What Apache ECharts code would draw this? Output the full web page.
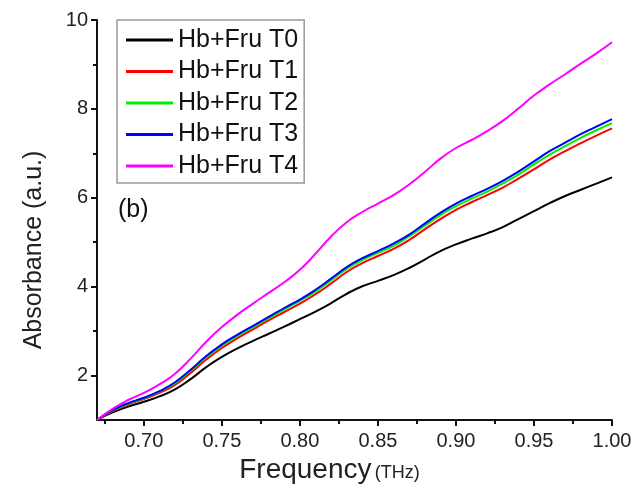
<!DOCTYPE html>
<html>
<head>
<meta charset="utf-8">
<script src="https://cdn.jsdelivr.net/npm/echarts@6/dist/echarts.min.js"></script>
<style>
  html, body { margin: 0; padding: 0; background: #fff; }
  #chart { width: 641px; height: 492px; }
</style>
</head>
<body>
<div id="chart"></div>
<script>
// frequency (THz)
var freq = [0.67, 0.68, 0.69, 0.70, 0.71, 0.72, 0.73, 0.74, 0.75, 0.76, 0.77, 0.78,
  0.79, 0.80, 0.81, 0.82, 0.83, 0.84, 0.85, 0.86, 0.87, 0.88, 0.89, 0.90, 0.91,
  0.92, 0.93, 0.94, 0.95, 0.96, 0.97, 0.98, 0.99, 1.00];

var t0 = [1.00, 1.17, 1.30, 1.41, 1.53, 1.69, 1.92, 2.19, 2.42, 2.61, 2.78, 2.94,
  3.10, 3.27, 3.44, 3.63, 3.84, 4.01, 4.13, 4.26, 4.42, 4.61, 4.80, 4.95, 5.08,
  5.20, 5.34, 5.52, 5.70, 5.88, 6.04, 6.18, 6.32, 6.46];
var t1 = [1.00, 1.20, 1.35, 1.47, 1.61, 1.79, 2.06, 2.36, 2.62, 2.84, 3.04, 3.24,
  3.43, 3.62, 3.83, 4.07, 4.33, 4.53, 4.69, 4.85, 5.05, 5.29, 5.52, 5.73, 5.90,
  6.06, 6.23, 6.43, 6.64, 6.86, 7.05, 7.23, 7.40, 7.56];
var t2 = [1.00, 1.21, 1.37, 1.49, 1.64, 1.83, 2.11, 2.41, 2.67, 2.89, 3.09, 3.29,
  3.49, 3.68, 3.89, 4.14, 4.40, 4.60, 4.76, 4.92, 5.13, 5.37, 5.61, 5.81, 5.98,
  6.14, 6.32, 6.52, 6.75, 6.97, 7.16, 7.35, 7.52, 7.68];
var t3 = [1.00, 1.22, 1.38, 1.50, 1.65, 1.85, 2.13, 2.44, 2.70, 2.92, 3.12, 3.32,
  3.52, 3.71, 3.93, 4.18, 4.44, 4.64, 4.80, 4.97, 5.17, 5.42, 5.66, 5.87, 6.04,
  6.20, 6.38, 6.59, 6.82, 7.05, 7.24, 7.43, 7.60, 7.77];
var t4 = [1.00, 1.25, 1.45, 1.61, 1.80, 2.04, 2.38, 2.76, 3.09, 3.37, 3.62, 3.86,
  4.10, 4.38, 4.74, 5.13, 5.45, 5.68, 5.87, 6.06, 6.30, 6.58, 6.88, 7.12, 7.30,
  7.50, 7.73, 8.01, 8.30, 8.55, 8.78, 9.02, 9.25, 9.50];

var seriesNames = ['Hb+Fru T0', 'Hb+Fru T1', 'Hb+Fru T2', 'Hb+Fru T3', 'Hb+Fru T4'];
var seriesColors = ['#000000', '#ff0000', '#00ee00', '#0000ff', '#ff00ff'];
var seriesValues = [t0, t1, t2, t3, t4];

var xMajor = [0.70, 0.75, 0.80, 0.85, 0.90, 0.95, 1.00];
var xMinor = [0.675, 0.725, 0.775, 0.825, 0.875, 0.925, 0.975];
var yMajor = [2, 4, 6, 8, 10];
var yMinor = [3, 5, 7, 9];

var myChart = echarts.init(document.getElementById('chart'));

var series = seriesNames.map(function (name, i) {
  return {
    name: name,
    type: 'line',
    xAxisIndex: 0,
    yAxisIndex: 0,
    data: freq.map(function (f, j) { return [f, seriesValues[i][j]]; }),
    smooth: 0.5,
    showSymbol: false,
    color: seriesColors[i],
    lineStyle: { color: seriesColors[i], width: 2 }
  };
});

var option = {
  animation: false,
  backgroundColor: '#fff',
  grid: { left: 97, right: 29, top: 20, bottom: 72 },
  legend: {
    orient: 'vertical',
    left: 117,
    top: 20,
    padding: [6, 6, 3, 9],
    backgroundColor: '#fff',
    borderColor: '#999',
    borderWidth: 1.5,
    icon: 'rect',
    itemWidth: 47,
    itemHeight: 3,
    itemGap: 3.5,
    itemStyle: { borderWidth: 0 },
    textStyle: { color: '#111', fontSize: 25, lineHeight: 28, fontFamily: 'Liberation Sans' },
    data: seriesNames
  },
  xAxis: [
    {
      type: 'value',
      min: 0.67,
      max: 1.0,
      position: 'bottom',
      name: '{a|Frequency} {b|(THz)}',
      nameLocation: 'middle',
      nameGap: 34,
      nameTextStyle: {
        padding: [0, 50, 0, 0],
        rich: {
          a: { fontSize: 28, color: '#222', fontFamily: 'Liberation Sans' },
          b: { fontSize: 18, color: '#222', fontFamily: 'Liberation Sans', padding: [6, 0, 0, 0] }
        }
      },
      axisLine: { lineStyle: { color: '#111', width: 2 } },
      axisTick: { customValues: xMajor, length: 6, lineStyle: { color: '#111', width: 2 } },
      axisLabel: {
        customValues: xMajor,
        margin: 11,
        color: '#222',
        fontSize: 20,
        fontFamily: 'Liberation Sans',
        formatter: function (v) { return v.toFixed(2); }
      },
      splitLine: { show: false }
    },
    {
      type: 'value',
      min: 0.67,
      max: 1.0,
      position: 'bottom',
      axisLine: { show: false },
      axisTick: { customValues: xMinor, length: 4, lineStyle: { color: '#111', width: 2 } },
      axisLabel: { show: false },
      splitLine: { show: false }
    }
  ],
  yAxis: [
    {
      type: 'value',
      min: 1,
      max: 10,
      position: 'left',
      name: 'Absorbance (a.u.)',
      nameLocation: 'middle',
      nameGap: 50,
      nameTextStyle: {
        fontSize: 25,
        color: '#222',
        fontFamily: 'Liberation Sans',
        padding: [0, 60, 0, 0]
      },
      axisLine: { show: true, lineStyle: { color: '#111', width: 2 } },
      axisTick: { show: true, customValues: yMajor, length: 6, lineStyle: { color: '#111', width: 2 } },
      axisLabel: {
        customValues: yMajor,
        margin: 9,
        color: '#222',
        fontSize: 20,
        fontFamily: 'Liberation Sans'
      },
      splitLine: { show: false }
    },
    {
      type: 'value',
      min: 1,
      max: 10,
      position: 'left',
      axisLine: { show: false },
      axisTick: { show: true, customValues: yMinor, length: 4, lineStyle: { color: '#111', width: 2 } },
      axisLabel: { show: false },
      splitLine: { show: false }
    }
  ],
  graphic: [
    {
      type: 'text',
      left: 118,
      top: 198,
      style: { text: '(b)', fontSize: 25, fill: '#111', fontFamily: 'Liberation Sans' }
    }
  ],
  series: series
};

myChart.setOption(option);
</script>
</body>
</html>
